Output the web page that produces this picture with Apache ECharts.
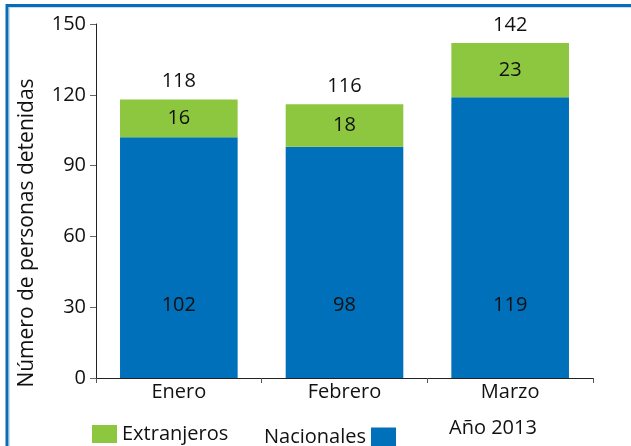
<!DOCTYPE html>
<html><head><meta charset="utf-8">
<script src="https://cdn.jsdelivr.net/npm/echarts@6/dist/echarts.min.js"></script>
<style>html,body{margin:0;padding:0;background:#fff}#c{width:631px;height:446px}</style>
</head><body><div id="c"></div>
<script>
const categories = ['Enero', 'Febrero', 'Marzo'];
const nacionales = [102, 98, 119];
const extranjeros = [16, 18, 23];
const totales = [118, 116, 142];
const yTicks = {min: 0, max: 150, interval: 30};

const FONT = '"Open Sans", "Noto Sans", sans-serif';
const BLUE = '#0070bb';
const GREEN = '#8dc63f';
const TXT = '#111111';
const FS = 20;

const chart = echarts.init(document.getElementById('c'), null, {renderer: 'canvas'});
chart.setOption({
  animation: false,
  backgroundColor: '#ffffff',
  textStyle: {fontFamily: FONT},
  grid: {left: 96, right: 38, top: 24, bottom: 68, containLabel: false},
  xAxis: {
    type: 'category', data: categories,
    axisLine: {lineStyle: {color: '#222', width: 1}},
    axisTick: {show: true, length: 5, lineStyle: {color: '#555'}},
    axisLabel: {fontSize: FS, color: TXT, margin: 4, fontFamily: FONT}
  },
  yAxis: {
    type: 'value', min: yTicks.min, max: yTicks.max, interval: yTicks.interval,
    axisLine: {show: true, lineStyle: {color: '#222', width: 1}},
    axisTick: {show: true, length: 6, lineStyle: {color: '#666'}},
    splitLine: {show: false},
    axisLabel: {fontSize: FS, color: TXT, margin: 10, fontFamily: FONT}
  },
  legend: [
    {data: [{name: 'Extranjeros', icon: 'rect'}], left: 87, top: 419, itemWidth: 25, itemHeight: 18, itemGap: 8,
     textStyle: {fontSize: FS, color: TXT, fontFamily: FONT}},
    {data: [{name: 'Nacionales', icon: 'rect'}], left: 259, top: 422, align: 'right', itemWidth: 25, itemHeight: 19,
     textStyle: {fontSize: FS, color: TXT, fontFamily: FONT}}
  ],
  series: [
    {name: 'Nacionales', type: 'bar', stack: 't', data: nacionales, barWidth: '71%',
     itemStyle: {color: BLUE},
     label: {show: true, position: 'insideBottom', distance: 63, fontSize: FS, color: TXT, fontFamily: FONT}},
    {name: 'Extranjeros', type: 'bar', stack: 't', data: extranjeros, barWidth: '71%',
     itemStyle: {color: GREEN},
     label: {show: true, position: 'inside', fontSize: FS, color: TXT, fontFamily: FONT}},
    {name: 'Total', type: 'bar', stack: 't', data: totales.map(() => 0), barWidth: '71%',
     itemStyle: {color: 'transparent'},
     label: {show: true, position: 'top', distance: 8, fontSize: FS, color: TXT, fontFamily: FONT,
             formatter: p => String(totales[p.dataIndex])}}
  ],
  graphic: [
    {type: 'line', shape: {x1: 6, y1: 5.5, x2: 631, y2: 5.5}, style: {stroke: '#0a6db4', lineWidth: 3}},
    {type: 'line', shape: {x1: 9, y1: 7.5, x2: 631, y2: 7.5}, style: {stroke: '#c4def0', lineWidth: 1}},
    {type: 'line', shape: {x1: 7, y1: 4, x2: 7, y2: 446}, style: {stroke: '#0a6db4', lineWidth: 3}},
    {type: 'line', shape: {x1: 9.5, y1: 7, x2: 9.5, y2: 446}, style: {stroke: '#c4def0', lineWidth: 1}},
    {type: 'text', x: 27, y: 233, rotation: Math.PI / 2,
     style: {text: 'Número de personas detenidas', fontSize: 21, fill: TXT, fontFamily: FONT,
             textAlign: 'center', textVerticalAlign: 'middle'}},
    {type: 'text', x: 449, y: 428,
     style: {text: 'Año 2013', fontSize: FS, fill: TXT, fontFamily: FONT, textVerticalAlign: 'middle'}}
  ]
});
</script></body></html>
